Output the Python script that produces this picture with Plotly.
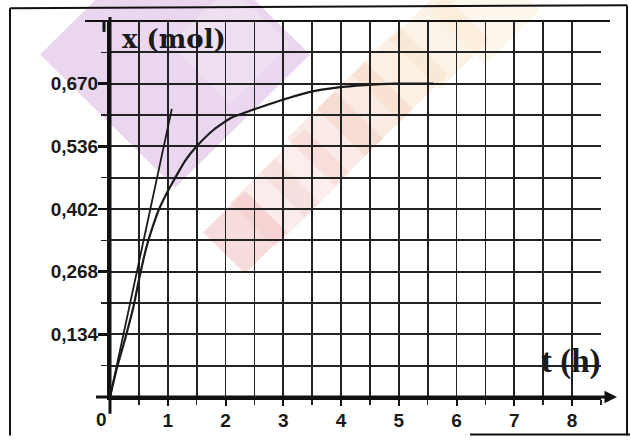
import plotly.graph_objects as go

# ---- data ----
curve_t = [0, 0.12, 0.27, 0.41, 0.50, 0.63, 0.75, 0.85, 1.0, 1.13, 1.3, 1.5, 1.8, 2.1, 2.45, 2.95, 3.45, 3.95, 4.4, 4.95, 5.6]
curve_x = [0, 0.062, 0.128, 0.195, 0.250, 0.320, 0.368, 0.402, 0.440, 0.469, 0.505, 0.536, 0.572, 0.597, 0.613, 0.634, 0.652, 0.662, 0.667, 0.670, 0.670]

tangent_t = [0, 1.07]
tangent_x = [0, 0.616]

x_tick_vals = [1, 2, 3, 4, 5, 6, 7, 8]
x_tick_text = ["1", "2", "3", "4", "5", "6", "7", "8"]
y_tick_vals = [0.134, 0.268, 0.402, 0.536, 0.670]
y_tick_text = ["0,134", "0,268", "0,402", "0,536", "0,670"]

W, H = 630, 443
L, R, T, B = 110, 29, 21, 41
PW, PH = W - L - R, H - T - B


def px(xpix):
    return (xpix - L) / PW


def py(ypix):
    return (H - B - ypix) / PH


fig = go.Figure()

fig.add_trace(go.Scatter(x=curve_t, y=curve_x, mode="lines",
                         line=dict(color="#1a1a1a", width=2.2, shape="spline", smoothing=0.5),
                         hoverinfo="skip", showlegend=False))
fig.add_trace(go.Scatter(x=tangent_t, y=tangent_x, mode="lines",
                         line=dict(color="#1a1a1a", width=1.8),
                         hoverinfo="skip", showlegend=False))

tickfont = dict(family="Liberation Sans, Arial", size=19, color="#1a1a1a", weight="bold")

fig.update_xaxes(range=[0, 8.5], tickvals=x_tick_vals, ticktext=x_tick_text,
                 showgrid=True, gridcolor="#222222", gridwidth=1.7,
                 minor=dict(dtick=0.5, tick0=0, showgrid=True, gridcolor="#222222", gridwidth=1.7,
                            ticks="outside", ticklen=5, tickcolor="#222", tickwidth=1.5),
                 ticks="outside", ticklen=6, tickwidth=2, tickcolor="#111",
                 ticklabelstandoff=-2,
                 showline=True, linecolor="#111", linewidth=3, zeroline=False,
                 tickfont=tickfont, fixedrange=True)
fig.update_yaxes(range=[0, 0.804], tickvals=y_tick_vals, ticktext=y_tick_text,
                 showgrid=True, gridcolor="#222222", gridwidth=1.7,
                 minor=dict(dtick=0.067, tick0=0, showgrid=True, gridcolor="#222222", gridwidth=1.7,
                            ticks="outside", ticklen=6, tickcolor="#222", tickwidth=1.5),
                 ticks="outside", ticklen=9, tickwidth=2.5, tickcolor="#111",
                 ticklabelstandoff=-4,
                 showline=True, linecolor="#111", linewidth=3, zeroline=False,
                 tickfont=tickfont, fixedrange=True)

shapes = []


def diamond(cx, cy, r, color, op):
    pts = [(cx, cy - r), (cx + r, cy), (cx, cy + r), (cx - r, cy)]
    path = "M " + " L ".join(f"{px(a):.4f},{py(b):.4f}" for a, b in pts) + " Z"
    return dict(type="path", path=path, xref="paper", yref="paper", fillcolor=color,
                opacity=op, line=dict(width=0), layer="below")

# faint watermark of the scan
shapes.append(diamond(175, 55, 135, "#d8aee2", 0.5))
shapes.append(diamond(230, 45, 60, "#f4e8f6", 0.5))
for cx, cy, r, col, op in [(245, 235, 42, "#eaa4a4", 0.38), (275, 205, 45, "#f0c0bc", 0.3),
                           (305, 175, 45, "#f2c8c2", 0.3), (335, 140, 48, "#efbab0", 0.3),
                           (365, 110, 48, "#f0c0ac", 0.32), (400, 75, 48, "#f5d0b0", 0.35),
                           (440, 40, 50, "#f7dcbc", 0.35), (485, 10, 55, "#f8e6c8", 0.35)]:
    shapes.append(diamond(cx, cy, r, col, op))

# outer frame of the scan
line = dict(color="#111", width=2)
shapes.append(dict(type="line", xref="paper", yref="paper", x0=px(10), x1=px(10), y0=py(8), y1=py(441), line=line))
shapes.append(dict(type="line", xref="paper", yref="paper", x0=px(10), x1=px(627), y0=py(8), y1=py(5), line=line))
shapes.append(dict(type="line", xref="paper", yref="paper", x0=px(627), x1=px(627), y0=py(5), y1=py(441), line=line))
shapes.append(dict(type="line", xref="paper", yref="paper", x0=px(470), x1=px(630), y0=py(440), y1=py(440), line=line))
# top line extension
shapes.append(dict(type="line", xref="paper", yref="paper", x0=px(85), x1=px(610), y0=1, y1=1,
                   line=dict(color="#111", width=2.2)))
# axis extensions
shapes.append(dict(type="line", xref="paper", yref="paper", x0=px(96), x1=px(612), y0=0, y1=0,
                   line=dict(color="#111", width=3)))
shapes.append(dict(type="line", xref="paper", yref="paper", x0=0, x1=0, y0=py(419), y1=py(17),
                   line=dict(color="#111", width=3)))
shapes.append(dict(type="line", xref="paper", yref="paper", x0=px(104), x1=px(104), y0=py(21), y1=py(32),
                   line=dict(color="#111", width=3)))
fig.update_layout(shapes=shapes)

annotations = [
    dict(x=px(617), y=0, xref="paper", yref="paper", ax=-14, ay=0, showarrow=True, arrowhead=2,
         arrowsize=1, arrowwidth=2.5, arrowcolor="#111", text=""),
    dict(x=0, y=0, xref="x", yref="y", text="0", showarrow=False, xanchor="right", yanchor="top",
         xshift=-1, yshift=-10, font=tickfont),
    dict(x=0.18, y=0.765, xref="x", yref="y", text="x (mol)", showarrow=False, xanchor="left",
         yanchor="middle", font=dict(family="DejaVu Serif", size=26, color="#1a1a1a", weight="bold")),
    dict(x=7.98, y=0.076, xref="x", yref="y", text="t (h)", showarrow=False, xanchor="center",
         yanchor="middle", font=dict(family="Liberation Serif, Times New Roman", size=33,
                                     color="#1a1a1a", weight="bold")),
]
fig.update_layout(annotations=annotations)

fig.update_layout(width=W, height=H, autosize=False,
                  margin=dict(l=L, r=R, t=T, b=B, pad=0),
                  paper_bgcolor="white", plot_bgcolor="rgba(0,0,0,0)",
                  showlegend=False)

fig.write_html("out.html", config=dict(displayModeBar=False, staticPlot=True),
               post_script="document.body.style.margin='0';document.body.style.overflow='hidden';")
